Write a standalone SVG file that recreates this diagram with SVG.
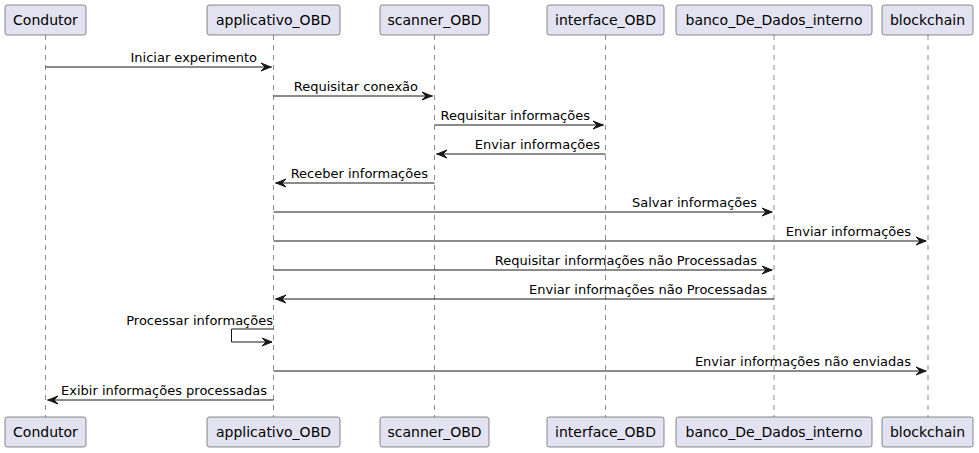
<svg xmlns="http://www.w3.org/2000/svg" width="979" height="453" viewBox="0 0 979 453">
<style>
.box{fill:#E2E2F0;stroke:#181818;stroke-width:0.5}
.life{stroke:#181818;stroke-width:0.5;stroke-dasharray:5,5;fill:none}
.pn{font-family:"DejaVu Sans",sans-serif;font-size:14px;fill:#000;text-anchor:middle}
.msg{stroke:#181818;stroke-width:1;fill:none}
.ah{fill:#181818;stroke:#181818;stroke-width:1}
.ml{font-family:"DejaVu Sans",sans-serif;font-size:13px;fill:#000;text-anchor:end}
</style>
<g id="lifelines">
<line class="life" x1="45.5" y1="35" x2="45.5" y2="417"/>
<line class="life" x1="273.5" y1="35" x2="273.5" y2="417"/>
<line class="life" x1="434.5" y1="35" x2="434.5" y2="417"/>
<line class="life" x1="605.5" y1="35" x2="605.5" y2="417"/>
<line class="life" x1="774" y1="35" x2="774" y2="417"/>
<line class="life" x1="928" y1="35" x2="928" y2="417"/>
</g>
<g id="Condutor">
<rect class="box" x="5" y="5" width="81" height="30" rx="2.5"/>
<text class="pn" x="45.5" y="25">Condutor</text>
<rect class="box" x="5" y="417" width="81" height="30" rx="2.5"/>
<text class="pn" x="45.5" y="437">Condutor</text>
</g>
<g id="applicativo_OBD">
<rect class="box" x="207" y="5" width="133" height="30" rx="2.5"/>
<text class="pn" x="273.5" y="25">applicativo_OBD</text>
<rect class="box" x="207" y="417" width="133" height="30" rx="2.5"/>
<text class="pn" x="273.5" y="437">applicativo_OBD</text>
</g>
<g id="scanner_OBD">
<rect class="box" x="380" y="5" width="109" height="30" rx="2.5"/>
<text class="pn" x="434.5" y="25">scanner_OBD</text>
<rect class="box" x="380" y="417" width="109" height="30" rx="2.5"/>
<text class="pn" x="434.5" y="437">scanner_OBD</text>
</g>
<g id="interface_OBD">
<rect class="box" x="547" y="5" width="117" height="30" rx="2.5"/>
<text class="pn" x="605.5" y="25">interface_OBD</text>
<rect class="box" x="547" y="417" width="117" height="30" rx="2.5"/>
<text class="pn" x="605.5" y="437">interface_OBD</text>
</g>
<g id="banco_De_Dados_interno">
<rect class="box" x="676" y="5" width="196" height="30" rx="2.5"/>
<text class="pn" x="774" y="25">banco_De_Dados_interno</text>
<rect class="box" x="676" y="417" width="196" height="30" rx="2.5"/>
<text class="pn" x="774" y="437">banco_De_Dados_interno</text>
</g>
<g id="blockchain">
<rect class="box" x="882" y="5" width="91" height="30" rx="2.5"/>
<text class="pn" x="927.5" y="25">blockchain</text>
<rect class="box" x="882" y="417" width="91" height="30" rx="2.5"/>
<text class="pn" x="927.5" y="437">blockchain</text>
</g>
<g id="connectors">
<line class="msg" x1="45.5" y1="67" x2="272" y2="67"/>
<polygon class="ah" points="261,63 271,67 261,71 265,67"/>
<text class="ml" x="257" y="62">Iniciar experimento</text>

<line class="msg" x1="273.5" y1="96" x2="433" y2="96"/>
<polygon class="ah" points="422,92 432,96 422,100 426,96"/>
<text class="ml" x="418" y="91">Requisitar conexão</text>

<line class="msg" x1="434.5" y1="125" x2="604" y2="125"/>
<polygon class="ah" points="593,121 603,125 593,129 597,125"/>
<text class="ml" x="590" y="120">Requisitar informações</text>

<line class="msg" x1="436" y1="154" x2="605.5" y2="154"/>
<polygon class="ah" points="447,150 437,154 447,158 443,154"/>
<text class="ml" x="600" y="149">Enviar informações</text>

<line class="msg" x1="275" y1="183" x2="434.5" y2="183"/>
<polygon class="ah" points="286,179 276,183 286,187 282,183"/>
<text class="ml" x="428" y="178">Receber informações</text>

<line class="msg" x1="273.5" y1="212" x2="772.5" y2="212"/>
<polygon class="ah" points="762,208 772,212 762,216 766,212"/>
<text class="ml" x="757" y="207">Salvar informações</text>

<line class="msg" x1="273.5" y1="241" x2="926.5" y2="241"/>
<polygon class="ah" points="916,237 926,241 916,245 920,241"/>
<text class="ml" x="911" y="236">Enviar informações</text>

<line class="msg" x1="273.5" y1="270" x2="772.5" y2="270"/>
<polygon class="ah" points="762,266 772,270 762,274 766,270"/>
<text class="ml" x="757" y="265">Requisitar informações não Processadas</text>

<line class="msg" x1="275" y1="299" x2="774" y2="299"/>
<polygon class="ah" points="286,295 276,299 286,303 282,299"/>
<text class="ml" x="767" y="294">Enviar informações não Processadas</text>

<polyline class="msg" points="273.5,329 231.5,329 231.5,342 272,342"/>
<polygon class="ah" points="262,338 272,342 262,346 266,342"/>
<text class="ml" x="273" y="325">Processar informações</text>

<line class="msg" x1="273.5" y1="371" x2="926.5" y2="371"/>
<polygon class="ah" points="916,367 926,371 916,375 920,371"/>
<text class="ml" x="911" y="366">Enviar informações não enviadas</text>

<line class="msg" x1="47" y1="400" x2="273.5" y2="400"/>
<polygon class="ah" points="58,396 48,400 58,404 54,400"/>
<text class="ml" x="267" y="395">Exibir informações processadas</text>
</g>
</svg>
